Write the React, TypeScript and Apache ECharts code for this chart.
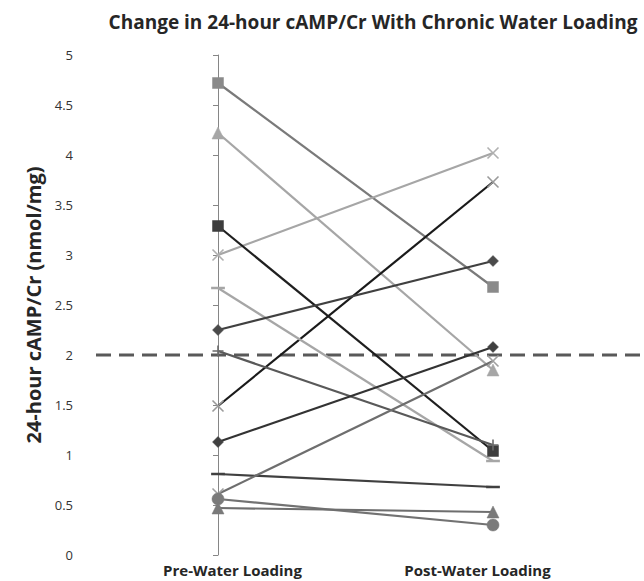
import React, { useEffect, useRef } from "react";
import * as echarts from "echarts";

const categories = ["Pre-Water Loading", "Post-Water Loading"];
const yTicks = { min: 0, max: 5, interval: 0.5 };
const thresholdValue = 2;

// each subject: [pre, post]
const subjectNames = ["S1", "S2", "S3", "S4", "S5", "S6", "S7", "S8", "S9", "S10", "S11", "S12", "S13"];
const preValues = [4.72, 4.22, 3.0, 3.29, 1.49, 2.67, 2.25, 2.04, 1.13, 0.81, 0.61, 0.56, 0.47];
const postValues = [2.68, 1.85, 4.02, 1.04, 3.73, 0.94, 2.94, 1.1, 2.08, 0.68, 1.94, 0.3, 0.43];

const X_PATH = "path://M0,0L10,10M10,0L0,10";
const PLUS_PATH = "path://M5,0L5,10M0,5L10,5";

type Style = { symbol: string; line: string; marker: string; size: number | number[]; open?: boolean };
const styles: Style[] = [
  { symbol: "rect", line: "#7a7a7a", marker: "#8a8a8a", size: 11 },
  { symbol: "triangle", line: "#a6a6a6", marker: "#a6a6a6", size: 12 },
  { symbol: X_PATH, line: "#a6a6a6", marker: "#b0b0b0", size: 11, open: true },
  { symbol: "rect", line: "#1f1f1f", marker: "#3d3d3d", size: 11 },
  { symbol: X_PATH, line: "#1a1a1a", marker: "#9a9a9a", size: 11, open: true },
  { symbol: "rect", line: "#a6a6a6", marker: "#a6a6a6", size: [11, 2] },
  { symbol: "diamond", line: "#404040", marker: "#4a4a4a", size: 11 },
  { symbol: PLUS_PATH, line: "#595959", marker: "#6a6a6a", size: 11, open: true },
  { symbol: "diamond", line: "#333333", marker: "#404040", size: 11 },
  { symbol: "rect", line: "#404040", marker: "#404040", size: [11, 2] },
  { symbol: X_PATH, line: "#6e6e6e", marker: "#a0a0a0", size: 11, open: true },
  { symbol: "circle", line: "#727272", marker: "#7a7a7a", size: 12 },
  { symbol: "triangle", line: "#6e6e6e", marker: "#7a7a7a", size: 12 },
];

export default function App() {
  const ref = useRef<HTMLDivElement>(null);
  useEffect(() => {
    if (!ref.current) return;
    const chart = echarts.init(ref.current, undefined, { renderer: "svg" });
    const series: any[] = subjectNames.map((name, i) => {
      const st = styles[i];
      return {
        name,
        type: "line",
        xAxisIndex: 1,
        yAxisIndex: 0,
        data: [
          [0, preValues[i]],
          [1, postValues[i]],
        ],
        symbol: st.symbol,
        symbolSize: st.size,
        showSymbol: true,
        lineStyle: { color: st.line, width: 2.2 },
        itemStyle: st.open
          ? { color: st.marker, borderColor: st.marker, borderWidth: 1.6 }
          : { color: st.marker, borderColor: st.marker, borderWidth: 0.5 },
        z: 3,
        clip: false,
      };
    });
    series.push({
      name: "threshold",
      type: "line",
      xAxisIndex: 2,
      yAxisIndex: 1,
      data: [
        [0, thresholdValue],
        [1, thresholdValue],
      ],
      symbol: "none",
      lineStyle: { color: "#595959", width: 3, type: [15, 8] },
      z: 2,
    });
    chart.setOption({
      animation: false,
      backgroundColor: "#ffffff",
      title: {
        text: "Change in 24-hour cAMP/Cr With Chronic Water Loading",
        left: 368,
        textAlign: "center",
        top: 7,
        textStyle: { fontFamily: "Open Sans", fontWeight: "bold", fontSize: 19, color: "#262626" },
      },
      grid: [
        { left: 110, right: 44, top: 55, height: 500 },
        { left: 96, right: 0, top: 55, height: 500 },
      ],
      xAxis: [
        {
          type: "category",
          gridIndex: 0,
          data: categories,
          axisLine: { show: false },
          axisTick: { show: false },
          axisLabel: {
            margin: 7,
            fontFamily: "Open Sans",
            fontWeight: "bold",
            fontSize: 15,
            color: "#262626",
          },
        },
        {
          type: "value",
          gridIndex: 0,
          min: (110 - 218) / 275,
          max: (600 - 218) / 275,
          show: false,
        },
        { type: "value", gridIndex: 1, min: 0, max: 1, show: false },
      ],
      yAxis: [
        {
          type: "value",
          gridIndex: 0,
          min: yTicks.min,
          max: yTicks.max,
          interval: yTicks.interval,
          offset: 29,
          name: "24-hour cAMP/Cr (nmol/mg)",
          nameLocation: "middle",
          nameGap: 38,
          nameTextStyle: { fontFamily: "Open Sans", fontWeight: "bold", fontSize: 20, color: "#262626" },
          axisLine: { show: true, lineStyle: { color: "#868686", width: 1 } },
          axisTick: { show: true, length: 5, lineStyle: { color: "#868686" } },
          splitLine: { show: false },
          axisLabel: { margin: 8, fontFamily: "Open Sans", fontSize: 13, color: "#333333" },
        },
        { type: "value", gridIndex: 1, min: 0, max: 5, show: false },
      ],
      series,
    });
    return () => chart.dispose();
  }, []);
  return (
    <div
      ref={ref}
      style={{ position: "absolute", left: 0, top: 0, width: 644, height: 581 }}
    />
  );
}
